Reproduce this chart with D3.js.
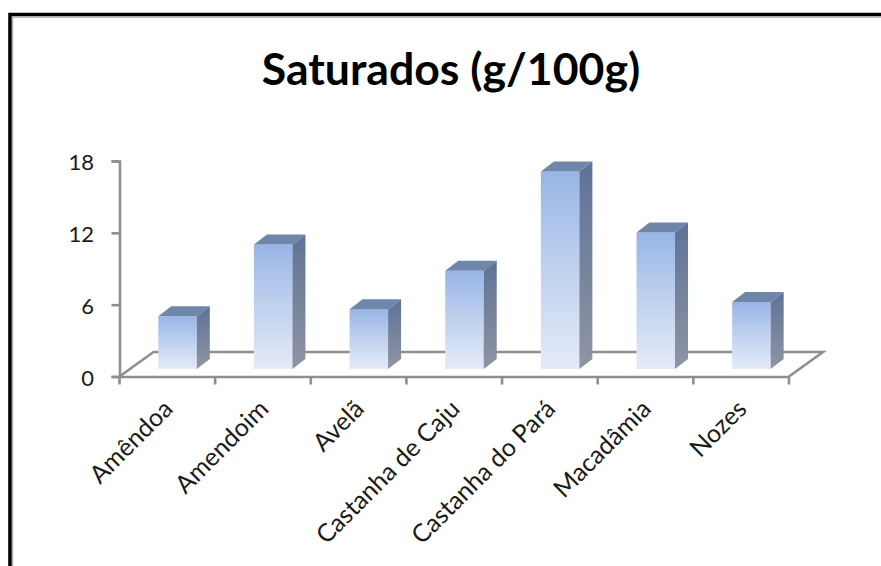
<!DOCTYPE html>
<html>
<head>
<meta charset="utf-8">
<script src="https://cdn.jsdelivr.net/npm/d3@7/dist/d3.min.js"></script>
<style>
html,body{margin:0;padding:0;background:#fff;}
svg{display:block;}
</style>
</head>
<body>
<svg id="chart" width="881" height="566"></svg>
<script>
const categories = ["Amêndoa","Amendoim","Avelã","Castanha de Caju","Castanha do Pará","Macadâmia","Nozes"];
const saturados = [4.4,10.4,5.0,8.2,16.5,11.4,5.6];
const yTicks = [0,6,12,18];
const titleText = "Saturados (g/100g)";

const font = "Lato, Carlito, 'Open Sans', sans-serif";
const svg = d3.select("#chart");
const defs = svg.append("defs");

// Plot frame
const plot = {left:119.5, right:789, top:161, bottom:376.5};
const floorDepth = {x:34, y:-24.5};
const barDepth = {x:13, y:-10};
const barBaseY = 369;

const x = d3.scaleBand().domain(categories).range([plot.left, plot.right]).paddingInner(0).paddingOuter(0);
const barWidth = 38.5;
const barOffset = 38.8;
const y = d3.scaleLinear().domain([0,18]).range([plot.bottom, plot.top]);
// Bar heights share the axis scale but stand on the raised floor line
const barTop = v => barBaseY - (y(0) - y(v));

function grad(id, stops){
  const g = defs.append("linearGradient").attr("id",id)
    .attr("x1",0).attr("y1",0).attr("x2",0).attr("y2",1);
  stops.forEach(([o,c]) => g.append("stop").attr("offset",o).attr("stop-color",c));
}
grad("front",[[0,"#98b5e6"],[0.45,"#bccfee"],[1,"#e4ebf8"]]);
grad("side",[[0,"#5f7296"],[1,"#8f95a3"]]);

// Outer border of the chart area
svg.append("path").attr("d","M10 566V14.5H881").attr("fill","none").attr("stroke","#000").attr("stroke-width",3.6);
svg.append("path").attr("d","M12.5 566V17H881").attr("fill","none").attr("stroke","#a8a8a8").attr("stroke-width",1.4);

// Title
svg.append("text").attr("x",451).attr("y",84.5).attr("text-anchor","middle")
  .attr("font-family",font).attr("font-weight",700).attr("font-size",44.6).attr("fill","#000").text(titleText);

// Floor of the 3D plot
const axisColor = "#8f8f8f";
const axisWidth = 2.6;
svg.append("path")
  .attr("d",`M${plot.left} ${plot.bottom}L${plot.left+floorDepth.x} ${plot.bottom+floorDepth.y}H${plot.right+floorDepth.x}L${plot.right} ${plot.bottom}`)
  .attr("fill","none").attr("stroke",axisColor).attr("stroke-width",axisWidth);

// Value axis
const yAxis = d3.axisLeft(y).tickValues(yTicks).tickSize(8).tickPadding(17.5);
const gy = svg.append("g").attr("transform",`translate(${plot.left},0)`).call(yAxis);
gy.select(".domain").attr("stroke",axisColor).attr("stroke-width",axisWidth);
gy.selectAll(".tick line").attr("stroke",axisColor).attr("stroke-width",axisWidth);
gy.selectAll(".tick text").attr("font-family",font).attr("font-size",22).attr("fill","#1a1a1a")
  .attr("dy","0.4em");

// Category axis, labels rotated and ending under each slot
const xAxis = d3.axisBottom(x).tickSize(0).tickFormat("");
const gx = svg.append("g").attr("transform",`translate(0,${plot.bottom})`).call(xAxis);
gx.select(".domain").attr("stroke",axisColor).attr("stroke-width",axisWidth);
gx.selectAll(".tick").remove();
const tickEdges = d3.range(categories.length+1).map(i => plot.left + i*x.step());
gx.selectAll("line.edge").data(tickEdges).join("line").attr("class","edge")
  .attr("x1",d=>d).attr("x2",d=>d).attr("y1",0).attr("y2",8)
  .attr("stroke",axisColor).attr("stroke-width",axisWidth);

svg.append("g").selectAll("text").data(categories).join("text")
  .attr("text-anchor","end")
  .attr("transform",d=>`translate(${x(d)+x.bandwidth()/2+7},${plot.bottom+34}) rotate(-45)`)
  .attr("font-family",font).attr("font-size",25).attr("fill","#1a1a1a").text(d=>d);

// Bars: front, top and side faces
const bars = svg.append("g").selectAll("g").data(categories.map((c,i)=>({c,v:saturados[i]}))).join("g");
bars.append("rect")
  .attr("x",d=>x(d.c)+barOffset).attr("y",d=>barTop(d.v))
  .attr("width",barWidth).attr("height",d=>barBaseY-barTop(d.v))
  .attr("fill","url(#front)");
bars.append("path")
  .attr("d",d=>{const l=x(d.c)+barOffset,r=l+barWidth,t=barTop(d.v);
    return `M${l} ${t}L${l+barDepth.x} ${t+barDepth.y}H${r+barDepth.x}L${r} ${t}Z`;})
  .attr("fill","#6f86ab");
bars.append("path")
  .attr("d",d=>{const r=x(d.c)+barOffset+barWidth,t=barTop(d.v);
    return `M${r} ${t}L${r+barDepth.x} ${t+barDepth.y}V${barBaseY+barDepth.y}L${r} ${barBaseY}Z`;})
  .attr("fill","url(#side)");
</script>
</body>
</html>
